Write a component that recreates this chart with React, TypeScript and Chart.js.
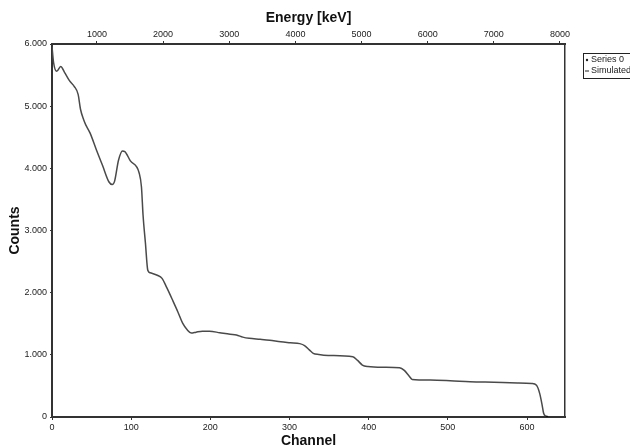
import React, { useEffect, useRef } from "react";
import { Chart, registerables } from "chart.js";

Chart.register(...registerables);

// Simulated gamma spectrum: channel number vs. counts
const CHANNELS = [
  0, 2, 6, 11, 16, 22, 28, 33, 36, 40, 43, 48, 56, 64, 72, 76, 79, 84, 89, 92, 99,
  110, 113, 115, 118, 121, 124, 133, 139, 145, 153, 159, 165, 171, 176, 182,
  190, 199, 212, 225, 233, 241, 249, 263, 275, 289, 301, 313, 319, 325, 330,
  337, 349, 380, 386, 392, 399, 419, 439, 445, 451, 455, 478, 503, 528, 558,
  588, 606, 612, 616, 619, 621, 624,
];
const COUNTS = [
  5960, 5700, 5560, 5640, 5540, 5410, 5320, 5190, 4950, 4780, 4690, 4570, 4300, 4040,
  3780, 3740, 3790, 4130, 4280, 4270, 4120, 3930, 3700, 3250, 2800, 2360, 2320,
  2280, 2230, 2080, 1860, 1690, 1510, 1400, 1350, 1365, 1380, 1380, 1355, 1330,
  1320, 1285, 1265, 1250, 1235, 1210, 1195, 1180, 1150, 1080, 1024, 1005, 990,
  970, 910, 836, 812, 800, 793, 750, 660, 605, 595, 584, 568, 558, 547, 538,
  510, 380, 200, 60, 5,
];

// Measured points ("Series 0")
const MEASURED_CHANNELS = [625];
const MEASURED_COUNTS = [0];

const CHANNEL_TICKS = [0, 100, 200, 300, 400, 500, 600];
const ENERGY_TICKS = [1000, 2000, 3000, 4000, 5000, 6000, 7000, 8000];
const COUNT_TICKS = [0, 1000, 2000, 3000, 4000, 5000, 6000];

const CHANNEL_MAX = 648;
const ENERGY_MIN = 320;
const ENERGY_MAX = 8076;

const FONT = "'Liberation Sans', Arial, Helvetica, sans-serif";
const AXIS_COLOR = "#333";

const withDots = (v: number) =>
  String(v).replace(/\B(?=(\d{3})+(?!\d))/g, ".");

const legendBox = {
  id: "legendBox",
  afterDraw(chart: any) {
    const { ctx, chartArea } = chart;
    const x = chartArea.right + 18;
    const y = chartArea.top + 9;
    ctx.save();
    ctx.fillStyle = "#fff";
    ctx.fillRect(x, y, 70, 25);
    ctx.strokeStyle = "#222";
    ctx.lineWidth = 1;
    ctx.strokeRect(x + 0.5, y + 0.5, 70, 25);
    ctx.font = `9px ${FONT}`;
    ctx.textBaseline = "middle";
    ctx.fillStyle = "#222";
    chart.data.datasets.forEach((ds: any, i: number) => {
      const cy = y + 7 + i * 11;
      if (ds.showLine === false) {
        ctx.beginPath();
        ctx.arc(x + 4, cy, 1.2, 0, Math.PI * 2);
        ctx.fill();
      } else {
        ctx.fillRect(x + 2, cy - 0.5, 4, 1);
      }
      ctx.fillText(ds.label, x + 8, cy);
    });
    ctx.restore();
  },
};

export default function App() {
  const ref = useRef<HTMLCanvasElement>(null);

  useEffect(() => {
    if (!ref.current) return;
    const chart = new Chart(ref.current, {
      type: "line",
      data: {
        datasets: [
          {
            label: "Series 0",
            data: MEASURED_CHANNELS.map((c, i) => ({ x: c, y: MEASURED_COUNTS[i] })),
            showLine: false,
            pointRadius: 1.5,
            pointBackgroundColor: "#111",
            pointBorderWidth: 0,
            xAxisID: "x",
            yAxisID: "y",
          },
          {
            label: "Simulated",
            data: CHANNELS.map((c, i) => ({ x: c, y: COUNTS[i] })),
            borderColor: "#4a4a4a",
            borderWidth: 1.5,
            pointRadius: 0,
            cubicInterpolationMode: "monotone",
            fill: false,
            xAxisID: "x",
            yAxisID: "y",
          },
        ],
      },
      options: {
        responsive: false,
        animation: false,
        layout: { padding: { left: 0, right: 65, top: 0, bottom: 0 } },
        plugins: {
          legend: { display: false },
          tooltip: { enabled: false },
        },
        scales: {
          x: {
            type: "linear",
            position: "bottom",
            min: 0,
            max: CHANNEL_MAX,
            afterBuildTicks: (s: any) => {
              s.ticks = CHANNEL_TICKS.map((v) => ({ value: v }));
            },
            afterFit: (s: any) => {
              s.height = 29;
            },
            ticks: {
              font: { family: FONT, size: 9 },
              color: "#222",
              padding: 2,
              maxRotation: 0,
            },
            grid: { drawOnChartArea: false, tickLength: 3, color: AXIS_COLOR },
            border: { color: AXIS_COLOR, width: 2 },
            title: {
              display: true,
              text: "Channel",
              font: { family: FONT, size: 14, weight: "bold", lineHeight: 1 },
              color: "#111",
              padding: { top: 0, bottom: -2 },
            },
          },
          x2: {
            type: "linear",
            position: "top",
            min: ENERGY_MIN,
            max: ENERGY_MAX,
            afterBuildTicks: (s: any) => {
              s.ticks = ENERGY_TICKS.map((v) => ({ value: v }));
            },
            afterFit: (s: any) => {
              s.height = 44;
            },
            ticks: {
              font: { family: FONT, size: 9 },
              color: "#222",
              padding: 1,
              maxRotation: 0,
              callback: (v: any) => String(v),
            },
            grid: { drawOnChartArea: false, tickLength: 3, color: AXIS_COLOR },
            border: { color: AXIS_COLOR, width: 2 },
            title: {
              display: true,
              text: "Energy [keV]",
              font: { family: FONT, size: 14, weight: "bold", lineHeight: 1 },
              color: "#111",
              padding: { top: 11, bottom: 0 },
            },
          },
          y: {
            type: "linear",
            position: "left",
            min: 0,
            max: 6000,
            afterBuildTicks: (s: any) => {
              s.ticks = COUNT_TICKS.map((v) => ({ value: v }));
            },
            afterFit: (s: any) => {
              s.width = 52;
            },
            ticks: {
              font: { family: FONT, size: 9 },
              color: "#222",
              padding: 3,
              callback: (v: any) => withDots(Number(v)),
            },
            grid: { drawOnChartArea: false, tickLength: 2, color: AXIS_COLOR },
            border: { color: AXIS_COLOR, width: 2 },
            title: {
              display: true,
              text: "Counts",
              font: { family: FONT, size: 14, weight: "bold", lineHeight: 1 },
              color: "#111",
              padding: { top: 8, bottom: 0 },
            },
          },
          y2: {
            type: "linear",
            position: "right",
            min: 0,
            max: 6000,
            afterFit: (s: any) => {
              s.width = 0;
            },
            ticks: { display: false },
            grid: { drawOnChartArea: false, drawTicks: false, tickLength: 0 },
            border: { color: AXIS_COLOR, width: 1.5 },
          },
        },
      },
      plugins: [legendBox],
    } as any);
    return () => chart.destroy();
  }, []);

  return (
    <div style={{ position: "absolute", left: 0, top: 0, width: 630, height: 446, background: "#fff" }}>
      <canvas ref={ref} width={630} height={446} />
    </div>
  );
}
